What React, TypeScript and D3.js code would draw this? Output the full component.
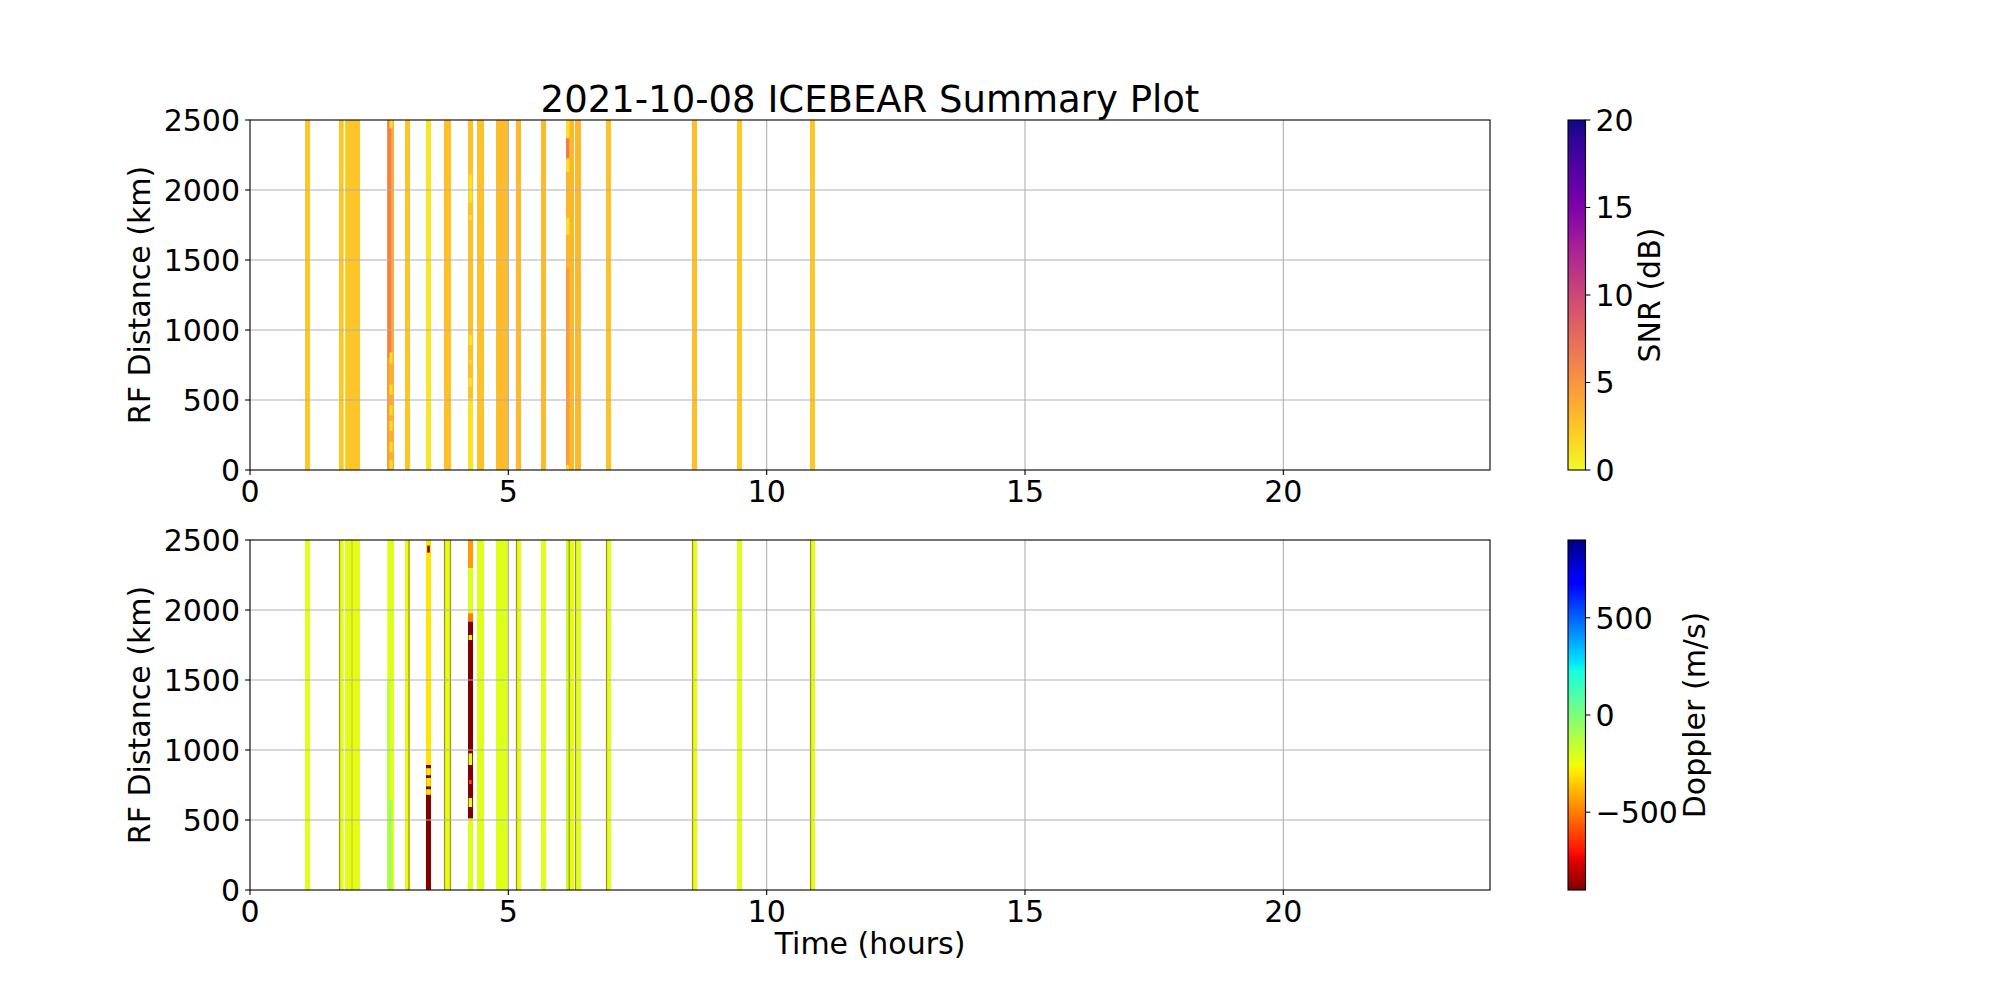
import React from "react";
import * as d3 from "d3";

// ---- data ----
const TITLE = "2021-10-08 ICEBEAR Summary Plot";
const X_TICKS = [0, 5, 10, 15, 20];
const Y_TICKS = [0, 500, 1000, 1500, 2000, 2500];
const SNR_TICKS = [0, 5, 10, 15, 20];
const DOP_TICKS = [-500, 0, 500];

// stripes: [startHour, endHour]
const stripeStart = [1.065, 1.723, 1.839, 2.657, 3.0, 3.406, 3.755, 4.219, 4.394, 4.761, 5.148, 5.632, 6.116, 6.29, 6.89, 8.555, 9.426, 10.839];
const stripeEnd = [1.161, 1.813, 2.129, 2.787, 3.097, 3.503, 3.89, 4.316, 4.529, 4.994, 5.245, 5.729, 6.271, 6.406, 6.987, 8.652, 9.523, 10.935];
// base SNR (dB) for each stripe
const stripeSnr = [2.3, 2.5, 2.5, 3.6, 2.5, 0.9, 2.7, 2.6, 2.6, 2.9, 3.0, 3.0, 3.2, 3.1, 2.6, 2.8, 2.2, 2.3];
// base Doppler (m/s) for each stripe
const stripeDoppler = [-215, -215, -215, -215, -215, -300, -215, -215, -215, -215, -215, -215, -215, -215, -215, -215, -215, -215];

// SNR patches: [t0, t1, rangeLow, rangeHigh, snr]
const snrPatches: [number, number, number, number, number][] = [
  [1.839, 1.862, 0, 2500, 1.6],
  [2.657, 2.735, 800, 2500, 6.3],
  [2.657, 2.68, 0, 800, 5.5],
  [2.70, 2.76, 2440, 2500, 1.2],
  [2.70, 2.76, 760, 840, 1.2],
  [2.70, 2.76, 540, 610, 1.2],
  [2.70, 2.76, 390, 460, 1.2],
  [2.70, 2.76, 280, 350, 1.2],
  [2.70, 2.76, 130, 200, 1.2],
  [2.70, 2.76, 10, 70, 1.2],
  [4.219, 4.316, 0, 510, 1.0],
  [4.23, 4.30, 1910, 2110, 1.0],
  [4.24, 4.29, 1786, 1821, 1.0],
  [4.23, 4.30, 893, 964, 1.0],
  [4.24, 4.29, 757, 786, 1.0],
  [4.23, 4.30, 593, 657, 1.0],
  [6.116, 6.18, 0, 1443, 4.6],
  [6.116, 6.18, 2369, 2500, 1.0],
  [6.116, 6.18, 2226, 2369, 6.5],
  [6.116, 6.18, 2131, 2226, 1.0],
  [6.116, 6.18, 1680, 1800, 1.0],
  [6.116, 6.18, 0, 35, 1.0],
];

// Doppler patches: [t0, t1, rangeLow, rangeHigh, doppler]
const dopPatches: [number, number, number, number, number][] = [
  [2.657, 2.70, 0, 1490, -110],
  [2.68, 2.74, 0, 640, -70],
  [3.406, 3.503, 0, 893, -900],
  [3.41, 3.50, 820, 870, -300],
  [3.41, 3.50, 740, 800, -300],
  [3.41, 3.50, 680, 720, -300],
  [3.43, 3.48, 2410, 2460, -900],
  [4.219, 4.316, 2300, 2500, -440],
  [4.219, 4.316, 1917, 1976, -500],
  [4.219, 4.316, 512, 1917, -900],
  [4.23, 4.30, 1786, 1821, -215],
  [4.23, 4.30, 893, 976, -215],
  [4.24, 4.29, 757, 786, -600],
  [4.23, 4.30, 593, 657, -215],
  [6.116, 6.17, 0, 2500, -170],
];

// thin Doppler lines: [hour, doppler]
const dopLines: [number, number][] = [
  [1.733, -900], [1.974, -520], [3.077, -900], [3.765, -900], [3.88, -900],
  [5.158, -900], [6.18, -900], [6.30, -900], [6.90, -900], [8.565, -900], [10.849, -900],
];

const SNR_MIN = 0, SNR_MAX = 20;
const DOP_MIN = -900, DOP_MAX = 900;
const R_MAX = 2500;
const T_MAX = 24;

// ---- colormaps ----
const jetSeg = {
  r: [[0, 0], [0.35, 0], [0.66, 1], [0.89, 1], [1, 0.5]],
  g: [[0, 0], [0.125, 0], [0.375, 1], [0.64, 1], [0.91, 0], [1, 0]],
  b: [[0, 0.5], [0.11, 1], [0.34, 1], [0.65, 0], [1, 0]],
};
function seg(pts: number[][], x: number) {
  for (let i = 1; i < pts.length; i++) {
    if (x <= pts[i][0]) {
      const [x0, y0] = pts[i - 1];
      const [x1, y1] = pts[i];
      return y0 + ((y1 - y0) * (x - x0)) / (x1 - x0);
    }
  }
  return pts[pts.length - 1][1];
}
function jet(x: number) {
  const t = Math.max(0, Math.min(1, x));
  return d3.rgb(seg(jetSeg.r, t) * 255, seg(jetSeg.g, t) * 255, seg(jetSeg.b, t) * 255).formatHex();
}
const snrColor = (v: number) => d3.interpolatePlasma(1 - Math.max(0, Math.min(1, (v - SNR_MIN) / (SNR_MAX - SNR_MIN))));
const dopColor = (v: number) => jet((DOP_MAX - v) / (DOP_MAX - DOP_MIN));

// ---- layout ----
const W = 2000, H = 1000;
const AX_L = 250, AX_R = 1490;
const TOP = [120, 470];
const BOT = [540, 890];
const CB_L = 1568, CB_R = 1585.5;
const FONT = "DejaVu Sans, sans-serif";
const GRID = "#b0b0b0";

const x = d3.scaleLinear().domain([0, T_MAX]).range([AX_L, AX_R]);

function Panel({ y0, y1, kind }: { y0: number; y1: number; kind: "snr" | "dop" }) {
  const y = d3.scaleLinear().domain([0, R_MAX]).range([y1, y0]);
  const color = kind === "snr" ? snrColor : dopColor;
  const base = kind === "snr" ? stripeSnr : stripeDoppler;
  const patches = kind === "snr" ? snrPatches : dopPatches;
  return (
    <g>
      <defs>
        <clipPath id={`clip-${kind}`}>
          <rect x={AX_L} y={y0} width={AX_R - AX_L} height={y1 - y0} />
        </clipPath>
      </defs>
      <g clipPath={`url(#clip-${kind})`}>
        {stripeStart.map((s, i) => (
          <rect key={`s${i}`} x={x(s)} y={y(R_MAX)} width={x(stripeEnd[i]) - x(s)} height={y(0) - y(R_MAX)} fill={color(base[i])} />
        ))}
        {patches.map((p, i) => (
          <rect key={`p${i}`} x={x(p[0])} y={y(p[3])} width={x(p[1]) - x(p[0])} height={y(p[2]) - y(p[3])} fill={color(p[4])} />
        ))}
        {kind === "dop" &&
          dopLines.map((l, i) => (
            <line key={`l${i}`} x1={x(l[0])} x2={x(l[0])} y1={y(0)} y2={y(R_MAX)} stroke={color(l[1])} strokeWidth={1.2} strokeOpacity={0.45} />
          ))}
      </g>
      {/* grid */}
      {X_TICKS.filter((t) => t > 0).map((t) => (
        <line key={`gx${t}`} x1={x(t)} x2={x(t)} y1={y0} y2={y1} stroke={GRID} strokeWidth={1.1} />
      ))}
      {Y_TICKS.filter((t) => t > 0 && t < R_MAX).map((t) => (
        <line key={`gy${t}`} x1={AX_L} x2={AX_R} y1={y(t)} y2={y(t)} stroke={GRID} strokeWidth={1.1} />
      ))}
      {/* frame */}
      <rect x={AX_L} y={y0} width={AX_R - AX_L} height={y1 - y0} fill="none" stroke="#000" strokeWidth={1.1} />
      {/* x ticks */}
      {X_TICKS.map((t) => (
        <g key={`xt${t}`}>
          <line x1={x(t)} x2={x(t)} y1={y1} y2={y1 + 4.9} stroke="#000" strokeWidth={1.1} />
          <text x={x(t)} y={y1 + 32} textAnchor="middle" fontSize={30} fontFamily={FONT}>
            {t}
          </text>
        </g>
      ))}
      {/* y ticks */}
      {Y_TICKS.map((t) => (
        <g key={`yt${t}`}>
          <line x1={AX_L - 4.9} x2={AX_L} y1={y(t)} y2={y(t)} stroke="#000" strokeWidth={1.1} />
          <text x={AX_L - 10} y={y(t)} dy="0.36em" textAnchor="end" fontSize={30} fontFamily={FONT}>
            {t}
          </text>
        </g>
      ))}
      <text transform={`translate(150,${(y0 + y1) / 2}) rotate(-90)`} textAnchor="middle" fontSize={30} fontFamily={FONT}>
        RF Distance (km)
      </text>
    </g>
  );
}

function Colorbar({ y0, y1, kind }: { y0: number; y1: number; kind: "snr" | "dop" }) {
  const min = kind === "snr" ? SNR_MIN : DOP_MIN;
  const max = kind === "snr" ? SNR_MAX : DOP_MAX;
  const color = kind === "snr" ? snrColor : dopColor;
  const ticks = kind === "snr" ? SNR_TICKS : DOP_TICKS;
  const s = d3.scaleLinear().domain([min, max]).range([y1, y0]);
  const stops = d3.range(0, 65).map((i) => i / 64);
  const label = kind === "snr" ? "SNR (dB)" : "Doppler (m/s)";
  const labelX = kind === "snr" ? 1660 : 1705;
  const fmt = (t: number) => (t < 0 ? `\u2212${Math.abs(t)}` : `${t}`);
  return (
    <g>
      <defs>
        <linearGradient id={`grad-${kind}`} x1="0" y1="1" x2="0" y2="0">
          {stops.map((f) => (
            <stop key={f} offset={f} stopColor={color(min + f * (max - min))} />
          ))}
        </linearGradient>
      </defs>
      <rect x={CB_L} y={y0} width={CB_R - CB_L} height={y1 - y0} fill={`url(#grad-${kind})`} stroke="#000" strokeWidth={1.1} />
      {ticks.map((t) => (
        <g key={t}>
          <line x1={CB_R} x2={CB_R + 4.9} y1={s(t)} y2={s(t)} stroke="#000" strokeWidth={1.1} />
          <text x={CB_R + 10} y={s(t)} dy="0.36em" fontSize={30} fontFamily={FONT}>
            {fmt(t)}
          </text>
        </g>
      ))}
      <text transform={`translate(${labelX},${(y0 + y1) / 2}) rotate(-90)`} textAnchor="middle" fontSize={30} fontFamily={FONT}>
        {label}
      </text>
    </g>
  );
}

export default function App() {
  return (
    <svg width={W} height={H} style={{ position: "absolute", left: 0, top: 0, background: "#fff" }}>
      <rect x={0} y={0} width={W} height={H} fill="#fff" />
      <text x={(AX_L + AX_R) / 2} y={112} textAnchor="middle" fontSize={37} fontFamily={FONT}>
        {TITLE}
      </text>
      <Panel y0={TOP[0]} y1={TOP[1]} kind="snr" />
      <Panel y0={BOT[0]} y1={BOT[1]} kind="dop" />
      <Colorbar y0={TOP[0]} y1={TOP[1]} kind="snr" />
      <Colorbar y0={BOT[0]} y1={BOT[1]} kind="dop" />
      <text x={(AX_L + AX_R) / 2} y={954} textAnchor="middle" fontSize={30} fontFamily={FONT}>
        Time (hours)
      </text>
    </svg>
  );
}
